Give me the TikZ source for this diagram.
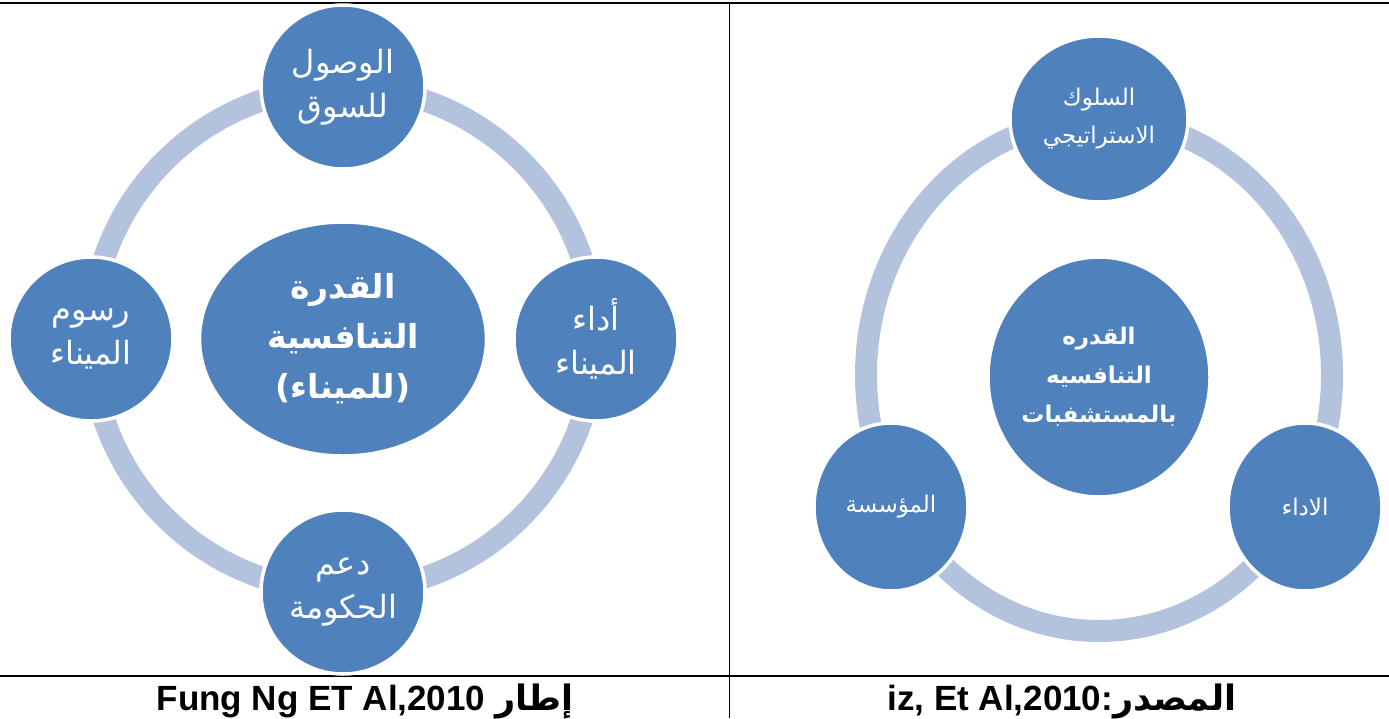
\documentclass[tikz,border=0pt]{standalone}
\usepackage{fontspec}
\setmainfont{Liberation Sans}
\newfontfamily\arabicfont[Script=Arabic]{DejaVu Sans}
\TeXXeTstate=1
\usetikzlibrary{shapes.geometric}
\definecolor{bubble}{HTML}{4F81BD}
\definecolor{ringc}{HTML}{B3C3DE}
\begin{document}
\begin{tikzpicture}[x=1pt,y=-1pt,
  bub/.style={circle, fill=bubble, draw=white, line width=3.5pt, inner sep=0pt, align=center, text=white},
  bubE/.style={ellipse, fill=bubble, draw=white, line width=3.5pt, inner sep=0pt, align=center, text=white},
  ringline/.style={draw=ringc, line width=22pt},
  rule/.style={draw=black, line width=2pt},
  outerL/.style={font=\arabicfont\fontsize{32}{44}\selectfont},
  centerL/.style={font=\arabicfont\bfseries\fontsize{33}{50}\selectfont},
  outerR/.style={font=\arabicfont\fontsize{23}{38}\selectfont},
  centerR/.style={font=\arabicfont\bfseries\fontsize{23}{39}\selectfont},
  caption/.style={anchor=base, font=\fontsize{35}{40}\bfseries\selectfont}]
\useasboundingbox (0,0) rectangle (1389,718);
% table rules
\coordinate (tl) at (0,3);
\coordinate (tr) at (1389,3);
\coordinate (bl) at (0,675.5);
\coordinate (br) at (1389,675.5);
\coordinate (vt) at (729.5,3);
\coordinate (vb) at (729.5,718);
\draw[rule] (tl) -- (tr);
\draw[rule] (bl) -- (br);
\draw[draw=black, line width=1.7pt] (vt) -- (vb);
% left diagram
\coordinate (lc) at (343,339);
\draw[ringline] (lc) circle[radius=252pt];
\node[bub, minimum size=164pt, outerL] (lTop) at (343,87) {\beginR الوصول\endR\\\beginR للسوق\endR};
\node[bub, minimum size=164pt, outerL] (lRight) at (596,339) {\beginR أداء\endR\\\beginR الميناء\endR};
\node[bub, minimum size=164pt, outerL] (lBottom) at (343,592) {\beginR دعم\endR\\\beginR الحكومة\endR};
\node[bub, minimum size=164pt, outerL] (lLeft) at (91,339) {\beginR رسوم\endR\\\beginR الميناء\endR};
\node[bubE, minimum width=287pt, minimum height=234pt, centerL] (lCenter) at (lc) {\beginR القدرة\endR\\\beginR التنافسية\endR\\\beginR (للميناء)\endR};
% right diagram
\coordinate (rc) at (1099,375);
\draw[ringline] (rc) ellipse[x radius=233pt, y radius=256pt];
\node[bubE, minimum width=178pt, minimum height=166pt, outerR] (rTop) at (1099,119) {\beginR السلوك\endR\\\beginR الاستراتيجي\endR};
\node[bubE, minimum width=154pt, minimum height=168pt, outerR] (rLeft) at (891,507) {\beginR المؤسسة\endR};
\node[bubE, minimum width=154pt, minimum height=168pt, outerR] (rRight) at (1305,507) {\beginR الاداء\endR};
\node[bubE, minimum width=222pt, minimum height=240pt, centerR] (rCenter) at (1099,377) {\beginR القدره\endR\\\beginR التنافسيه\endR\\\beginR بالمستشفبات\endR};
% captions
\node[caption] (capL) at (365,710) {Fung Ng ET Al,2010 {\arabicfont\beginR إطار\endR}};
\node[caption] (capR) at (1062,710) {iz, Et Al,2010:{\arabicfont\beginR المصدر\endR}};
\end{tikzpicture}
\end{document}
